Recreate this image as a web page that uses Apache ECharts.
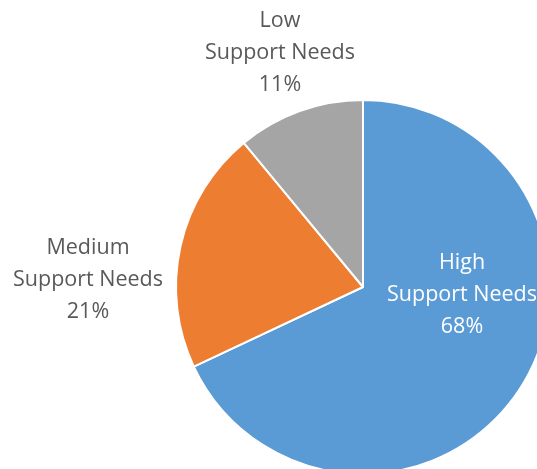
<!DOCTYPE html>
<html>
<head>
<meta charset="utf-8">
<script src="https://cdn.jsdelivr.net/npm/echarts@6/dist/echarts.min.js"></script>
<style>
html,body{margin:0;padding:0;background:#fff;}
#chart{width:537px;height:469px;}
</style>
</head>
<body>
<div id="chart"></div>
<script>
const categories = ['High\nSupport Needs', 'Medium\nSupport Needs', 'Low\nSupport Needs'];
const values = [68, 21, 11];
const colors = ['#5B9BD5', '#ED7D31', '#A5A5A5'];
const labelColors = ['#ffffff', '#595959', '#595959'];
const labelPlacement = ['inside', 'outside', 'outside'];
// label anchor positions (centre of each text block)
const labelPos = [[462, 295], [88, 280], [280, 53]];

const chart = echarts.init(document.getElementById('chart'));
chart.setOption({
  animation: false,
  backgroundColor: '#ffffff',
  series: [{
    type: 'pie',
    center: [363, 287],
    radius: 187,
    startAngle: 90,
    clockwise: true,
    avoidLabelOverlap: false,
    data: categories.map((c, i) => ({
      name: c,
      value: values[i],
      itemStyle: { color: colors[i] },
      label: { color: labelColors[i], position: labelPlacement[i] }
    })),
    itemStyle: { borderColor: '#ffffff', borderWidth: 2 },
    label: {
      show: true,
      formatter: p => p.name + '\n' + p.value + '%',
      fontFamily: 'Open Sans',
      fontSize: 21.5,
      lineHeight: 32,
      align: 'center',
      overflow: 'none',
      width: 200
    },
    labelLine: { show: false },
    labelLayout: params => ({
      x: labelPos[params.dataIndex][0],
      y: labelPos[params.dataIndex][1],
      align: 'center',
      verticalAlign: 'middle',
      hideOverlap: false,
      moveOverlap: null
    })
  }]
});
</script>
</body>
</html>
